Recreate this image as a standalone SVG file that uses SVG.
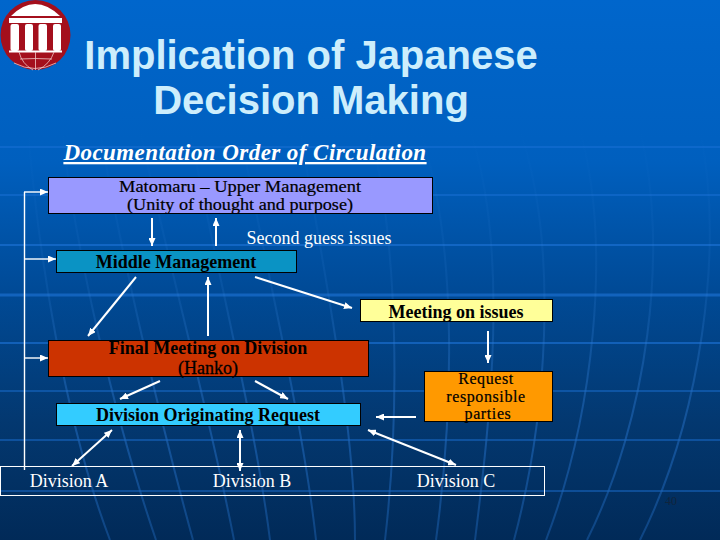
<svg xmlns="http://www.w3.org/2000/svg" width="720" height="540" viewBox="0 0 720 540">
<defs>
<linearGradient id="bg" x1="0" y1="0" x2="0" y2="1">
<stop offset="0" stop-color="#0066cc"/><stop offset="0.3" stop-color="#005fbe"/><stop offset="0.54" stop-color="#004a96"/><stop offset="0.78" stop-color="#033870"/><stop offset="1" stop-color="#012a58"/>
</linearGradient>
<linearGradient id="fan" gradientUnits="userSpaceOnUse" x1="0" y1="130" x2="0" y2="540">
<stop offset="0" stop-color="#3a88e0" stop-opacity="0"/><stop offset="0.4" stop-color="#3a88e0" stop-opacity=".14"/><stop offset="0.75" stop-color="#1f66b8" stop-opacity=".6"/><stop offset="1" stop-color="#1f66b8" stop-opacity=".45"/>
</linearGradient>
<marker id="a" markerWidth="8" markerHeight="7" refX="8" refY="3.5" orient="auto-start-reverse" markerUnits="userSpaceOnUse" viewBox="0 0 8 7"><path d="M0 0L8 3.500L0 7Z" fill="#fff"/></marker>
</defs>
<style>
text{font-family:"Liberation Serif","Times New Roman",serif;font-size:18px;text-anchor:middle;fill:#000}
.w{fill:#fff}.b{font-weight:bold}
.t{font-family:"Liberation Sans",Arial,sans-serif;font-size:40px;fill:#cdeefc;font-weight:bold}
.s{font-size:16px;letter-spacing:.6px;stroke:#000;stroke-width:.2}
.m{font-size:16px;stroke:#000;stroke-width:.2}
.box{stroke:#000;stroke-width:1}
.c{stroke:#fff;stroke-width:2;fill:none}
.h{stroke:#fff;stroke-width:1.4;fill:none}
.ar{marker-end:url(#a)}
.two{marker-start:url(#a);marker-end:url(#a)}
.gl{stroke:#1e74d8;fill:none;opacity:.6}
.fan{stroke:url(#fan);stroke-width:2;fill:none}
</style>
<rect width="720" height="540" fill="url(#bg)"/>
<g id="background-lines">
<path class="gl" stroke-width="3" d="M0 295H720"/>
<path class="gl" stroke-width="2" d="M0 245H720M0 343H720" opacity=".5"/>
<path class="gl" stroke-width="1.500" d="M0 147H720M0 195H720M0 391H720M0 440H720M0 491H720" opacity=".25"/>
<path class="fan" d="M28 130C38 250 64 420 110 540M62 130C75 250 115 420 156 540M100 130C120 250 160 420 193 540M140 130C165 250 211 420 234 540M190 130C212 250 255 420 270 540M240 130C262 250 303 420 316 540M300 130C320 250 355 420 355 540M370 130C400 250 399 420 385 540M420 130C460 250 452 420 436 540M470 130C510 250 490 420 475 540M520 130C560 250 546 420 514 540M580 130C613 250 592 420 546 540M640 130C670 250 647 420 587 540M700 130C725 250 700 420 640 540"/>
</g>
<g id="logo">
<circle cx="35.500" cy="35" r="35" fill="#a40f1c"/>
<path d="M11 16Q35 -8 60 16Z" fill="#fff"/>
<rect x="9" y="18" width="53" height="5" fill="#fff"/>
<g fill="#fff"><rect x="10.500" y="24" width="8.500" height="27" rx="2"/><rect x="25" y="24" width="8" height="27" rx="2"/><rect x="38.500" y="24" width="8.500" height="27" rx="2"/><rect x="53" y="24" width="8" height="27" rx="2"/><rect x="9" y="50.500" width="53" height="2"/></g>
<path d="M35.500 52V70M20 59Q35 58 52 59M19 52Q22 64 33 70M54 52Q50 64 38 70M14 63Q35 74 56 63" stroke="#f0c8c8" stroke-width=".8" fill="none"/>
</g>
<g id="title">
<text class="t" x="311" y="69">Implication of Japanese</text>
<text class="t" x="311" y="114">Decision Making</text>
</g>
<text id="subtitle" x="245" y="160" class="w" style="font-size:23px;font-style:italic;font-weight:bold;text-decoration:underline;letter-spacing:.44px">Documentation Order of Circulation</text>
<g id="connectors">
<path class="h" d="M24.500 470V192"/>
<path class="h ar" d="M24 192H48"/><path class="h ar" d="M24 259H56"/><path class="h ar" d="M24 358H48"/>
<path class="c ar" d="M152 218V246"/><path class="c ar" d="M216 246V218"/>
<path class="c ar" d="M136 277L88 336"/><path class="c ar" d="M208 336V277"/><path class="c ar" d="M255 277L352 308"/>
<path class="c ar" d="M160 381L120 399"/><path class="c ar" d="M255 381L288 399"/>
<path class="c two" d="M112 430L72 466"/>
<path class="c two" d="M240 430V471"/>
<path class="c ar" d="M416 417H376"/>
<path class="c ar" d="M488 331V363"/>
<path class="c two" d="M368 430L456 465"/>
</g>
<g id="matomaru"><rect class="box" x="48.500" y="177.500" width="384" height="36" fill="#9999ff"/>
<text class="m" x="240" y="192" textLength="242" lengthAdjust="spacingAndGlyphs">Matomaru – Upper Management</text><text class="m" x="240" y="210" textLength="226" lengthAdjust="spacingAndGlyphs">(Unity of thought and purpose)</text></g>
<text id="second-guess" class="w" x="319" y="244">Second guess issues</text>
<g id="middle"><rect class="box" x="56.500" y="250.500" width="240" height="22" fill="#0a93c4"/><text class="b" x="176" y="268">Middle Management</text></g>
<g id="meeting"><rect class="box" x="360.500" y="299.500" width="192" height="22" fill="#ffff99"/><text class="b" x="456" y="318">Meeting on issues</text></g>
<g id="final"><rect class="box" x="48.500" y="340.500" width="320" height="36" fill="#cc3300"/><text class="b" x="208" y="354">Final Meeting on Division</text><text x="208" y="374" style="stroke:#000;stroke-width:.3">(Hanko)</text></g>
<g id="request"><rect class="box" x="424.500" y="371.500" width="128" height="50" fill="#ff9900"/>
<text class="s" x="486" y="384">Request</text><text class="s" x="486" y="402">responsible</text><text class="s" x="488" y="419">parties</text></g>
<g id="originating"><rect class="box" x="56.500" y="403.500" width="304" height="22" fill="#33ccff"/><text class="b" x="208" y="421">Division Originating Request</text></g>
<g id="divisions"><rect x="0.500" y="466.500" width="544" height="29" fill="none" stroke="#fff"/>
<text class="w" x="69" y="487">Division A</text><text class="w" x="252" y="487">Division B</text><text class="w" x="456" y="487">Division C</text></g>
<text id="page" x="671" y="505" style="font-size:12px;fill:#10243c">40</text>
</svg>
